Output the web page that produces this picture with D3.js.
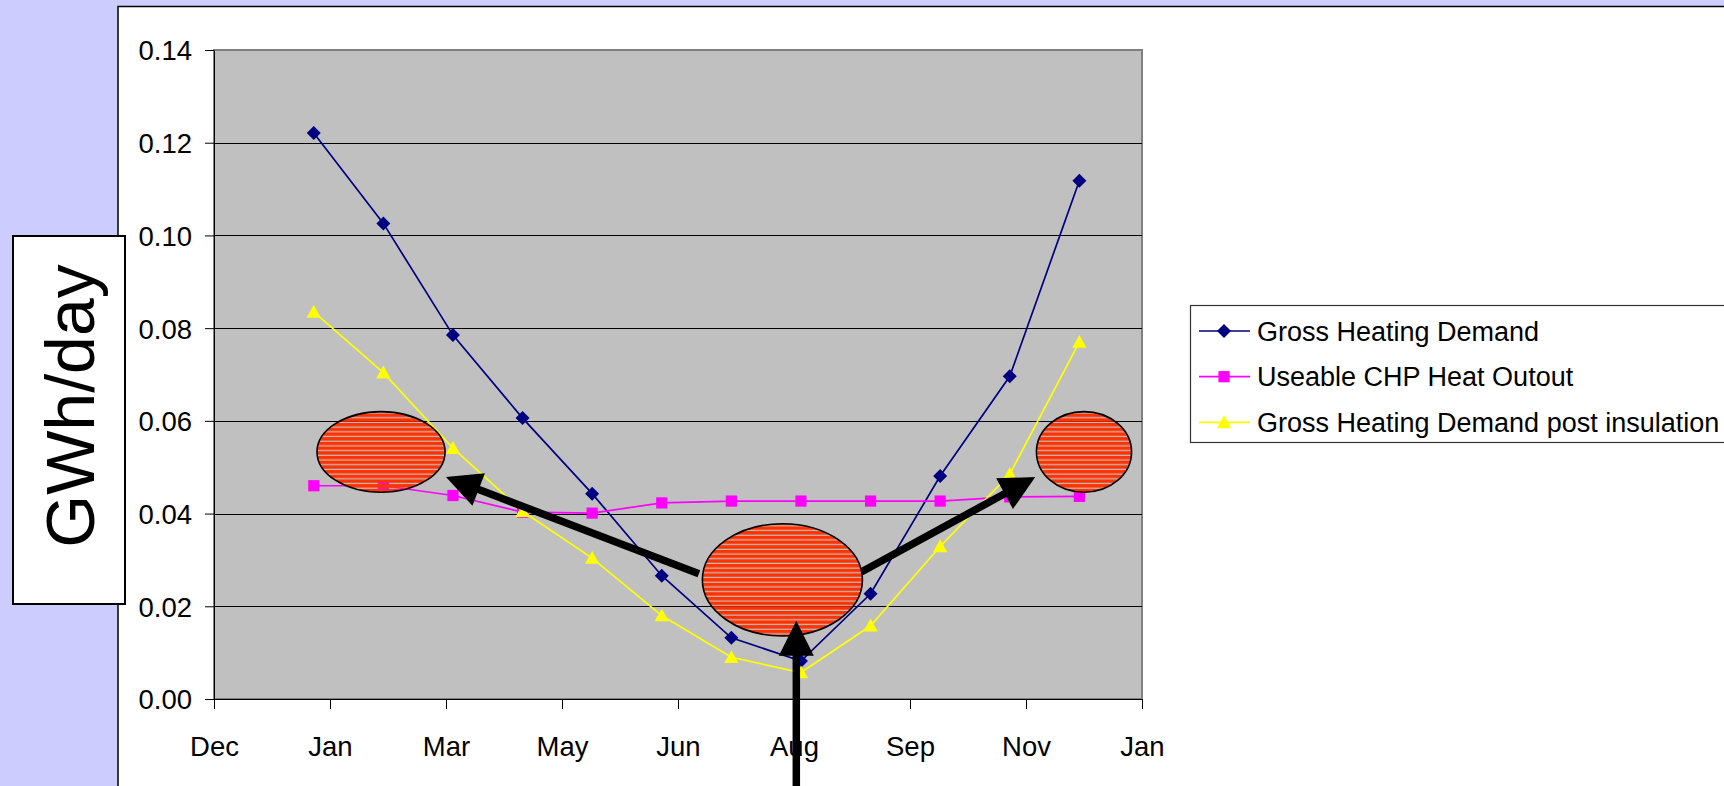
<!DOCTYPE html>
<html>
<head>
<meta charset="utf-8">
<script src="https://cdn.jsdelivr.net/npm/d3@7"></script>
<style>
  html, body { margin: 0; padding: 0; background: #CCCCFF; overflow: hidden; }
  svg { display: block; }
  text { font-family: "Liberation Sans", Arial, Helvetica, sans-serif; }
</style>
</head>
<body>
<svg id="chart" width="1724" height="786"></svg>
<script>
// ---- Data -------------------------------------------------------------
const months = ['Jan', 'Feb', 'Mar', 'Apr', 'May', 'Jun', 'Jul', 'Aug', 'Sep', 'Oct', 'Nov', 'Dec'];
const readingDates = ['2007-01-15', '2007-02-14', '2007-03-16', '2007-04-15', '2007-05-15', '2007-06-14',
                      '2007-07-14', '2007-08-13', '2007-09-12', '2007-10-12', '2007-11-11', '2007-12-11'];

const grossDemand     = [0.1221, 0.1026, 0.0785, 0.0606, 0.0443, 0.0266, 0.0132, 0.0082, 0.0227, 0.0481, 0.0696, 0.1118];
const chpOutput       = [0.0460, 0.0460, 0.0439, 0.0403, 0.0401, 0.0423, 0.0427, 0.0427, 0.0427, 0.0427, 0.0436, 0.0437];
const insulatedDemand = [0.0835, 0.0704, 0.0541, 0.0405, 0.0304, 0.0180, 0.0090, 0.0057, 0.0158, 0.0329, 0.0485, 0.0770];

const seriesNames = ['Gross Heating Demand', 'Useable CHP Heat Outout', 'Gross Heating Demand post insulation'];

const xTickDates  = ['2006-12-03', '2007-01-22', '2007-03-13', '2007-05-02', '2007-06-21',
                     '2007-08-10', '2007-09-29', '2007-11-18', '2008-01-07'];
const xTickLabels = ['Dec', 'Jan', 'Mar', 'May', 'Jun', 'Aug', 'Sep', 'Nov', 'Jan'];
const yTickValues = [0, 0.02, 0.04, 0.06, 0.08, 0.10, 0.12, 0.14];
const yAxisTitle  = 'GWh/day';

// Highlighted periods (centre date/value, half extents in days / GWh)
const highlightDates   = ['2007-02-13', '2007-08-05', '2007-12-13'];
const highlightValues  = [0.0533, 0.0257, 0.0533];
const highlightHalfDay = [27.6, 34.5, 20.5];
const highlightHalfVal = [0.0087, 0.0121, 0.0087];

// Arrows: from (date, value) to (date, value)
const arrowFromDates  = ['2007-06-30', '2007-09-08', '2007-08-11'];
const arrowFromValues = [0.0270, 0.0274, -0.0210];
const arrowToDates    = ['2007-03-13', '2007-11-22', '2007-08-11'];
const arrowToValues   = [0.0479, 0.0479, 0.0169];

// ---- Setup ------------------------------------------------------------
const parse = d3.utcParse('%Y-%m-%d');
const DAY = 864e5;
const svg = d3.select('#chart');

const plot = { left: 214, right: 1142, top: 50, bottom: 699 };

const x = d3.scaleUtc()
  .domain([parse(xTickDates[0]), parse(xTickDates[xTickDates.length - 1])])
  .range([plot.left, plot.right]);
const y = d3.scaleLinear().domain([0, 0.14]).range([plot.bottom, plot.top]);

// White chart panel
svg.append('rect')
  .attr('x', 118).attr('y', 6.5).attr('width', 1700).attr('height', 800)
  .attr('fill', '#ffffff').attr('stroke', '#000').attr('stroke-width', 1.5);

// Plot area
svg.append('rect')
  .attr('x', plot.left).attr('y', plot.top)
  .attr('width', plot.right - plot.left).attr('height', plot.bottom - plot.top)
  .attr('fill', '#C0C0C0').attr('stroke', '#808080').attr('stroke-width', 2);

// Horizontal gridlines
svg.append('g').selectAll('line')
  .data(yTickValues.filter(v => v > 0 && v < 0.14))
  .join('line')
  .attr('x1', plot.left).attr('x2', plot.right)
  .attr('y1', d => Math.round(y(d)) + 0.5).attr('y2', d => Math.round(y(d)) + 0.5)
  .attr('stroke', '#000').attr('stroke-width', 1);

// Y axis
const yAxis = svg.append('g')
  .attr('transform', `translate(${plot.left},0)`)
  .call(d3.axisLeft(y).tickValues(yTickValues).tickFormat(d3.format('.2f'))
    .tickSizeInner(9).tickSizeOuter(0).tickPadding(13));
yAxis.attr('font-size', 27.5).attr('font-family', null);
yAxis.select('.domain').attr('stroke', '#000');
yAxis.selectAll('.tick text').attr('fill', '#000').attr('dy', '0.36em');

// X axis
const xAxis = svg.append('g')
  .attr('transform', `translate(0,${plot.bottom})`)
  .call(d3.axisBottom(x).tickValues(xTickDates.map(parse))
    .tickFormat((d, i) => xTickLabels[i])
    .tickSizeInner(10).tickSizeOuter(0).tickPadding(27));
xAxis.attr('font-size', 27.5).attr('font-family', null);
xAxis.select('.domain').attr('stroke', '#000');
xAxis.selectAll('.tick text').attr('fill', '#000');

// ---- Series -------------------------------------------------------------
const markerPath = {
  diamond: r => `M0,${-r}L${r},0L0,${r}L${-r},0Z`,
  square: r => `M${-r},${-r}H${r}V${r}H${-r}Z`,
  triangle: r => `M0,${-r * 1.05}L${r * 1.05},${r * 0.85}L${-r * 1.05},${r * 0.85}Z`
};

const series = [
  { name: seriesNames[0], values: grossDemand,     color: '#000080', shape: 'diamond',  r: 7.0 },
  { name: seriesNames[1], values: chpOutput,       color: '#FF00FF', shape: 'square',   r: 5.6 },
  { name: seriesNames[2], values: insulatedDemand, color: '#FFFF00', shape: 'triangle', r: 6.8 }
];

const line = d3.line().x(d => x(d.date)).y(d => y(d.value));

series.forEach(s => {
  const pts = s.values.map((v, i) => ({ date: parse(readingDates[i]), value: v, month: months[i] }));
  const g = svg.append('g');
  g.append('path').datum(pts)
    .attr('d', line).attr('fill', 'none')
    .attr('stroke', s.color).attr('stroke-width', 1.7);
  g.selectAll('path.marker').data(pts).join('path')
    .attr('class', 'marker')
    .attr('transform', d => `translate(${x(d.date)},${y(d.value)})`)
    .attr('d', markerPath[s.shape](s.r))
    .attr('fill', s.color);
});

// ---- Annotations --------------------------------------------------------
const defs = svg.append('defs');
const hatch = defs.append('pattern')
  .attr('id', 'hatch').attr('patternUnits', 'userSpaceOnUse')
  .attr('width', 10).attr('height', 4.7);
hatch.append('rect').attr('x', 0).attr('y', 0).attr('width', 10).attr('height', 3.5).attr('fill', '#FF3300');

function drawArrow(g, x1, y1, x2, y2) {
  const dx = x2 - x1, dy = y2 - y1, L = Math.hypot(dx, dy);
  const ux = dx / L, uy = dy / L;
  const headLen = 35, headW = 35;
  const bx = x2 - ux * headLen, by = y2 - uy * headLen;
  g.append('line')
    .attr('x1', x1).attr('y1', y1).attr('x2', bx + ux * 2).attr('y2', by + uy * 2)
    .attr('stroke', '#000').attr('stroke-width', 7.5);
  g.append('path')
    .attr('d', `M${x2},${y2}L${bx - uy * headW / 2},${by + ux * headW / 2}L${bx + uy * headW / 2},${by - ux * headW / 2}Z`)
    .attr('fill', '#000');
}

const annot = svg.append('g');
// diagonal arrows leaving the summer highlight
[0, 1].forEach(i => drawArrow(annot,
  x(parse(arrowFromDates[i])), y(arrowFromValues[i]),
  x(parse(arrowToDates[i])), y(arrowToValues[i])));

// highlighted periods
highlightDates.forEach((d, i) => {
  const c = parse(d);
  const cx = x(c), cy = y(highlightValues[i]);
  const rx = x(new Date(+c + highlightHalfDay[i] * DAY)) - cx;
  const ry = cy - y(highlightValues[i] + highlightHalfVal[i]);
  annot.append('ellipse')
    .attr('cx', cx).attr('cy', cy).attr('rx', rx).attr('ry', ry)
    .attr('fill', 'url(#hatch)').attr('stroke', '#000').attr('stroke-width', 1.6);
});

// vertical arrow pointing at the summer minimum
drawArrow(annot,
  x(parse(arrowFromDates[2])), y(arrowFromValues[2]),
  x(parse(arrowToDates[2])), y(arrowToValues[2]));

// ---- Legend ---------------------------------------------------------------
const legend = svg.append('g');
legend.append('rect')
  .attr('x', 1190.5).attr('y', 305.5).attr('width', 600).attr('height', 137)
  .attr('fill', '#fff').attr('stroke', '#333').attr('stroke-width', 1.2);
series.forEach((s, i) => {
  const ly = 331 + i * 45.7;
  legend.append('line')
    .attr('x1', 1199).attr('x2', 1250).attr('y1', ly).attr('y2', ly)
    .attr('stroke', s.color).attr('stroke-width', 1.7);
  legend.append('path')
    .attr('transform', `translate(1224,${ly})`)
    .attr('d', markerPath[s.shape](s.r))
    .attr('fill', s.color);
  legend.append('text')
    .attr('x', 1257).attr('y', ly).attr('dy', '0.36em')
    .attr('font-size', 27).attr('fill', '#000')
    .text(s.name);
});

// ---- Y axis title box --------------------------------------------------------
svg.append('rect')
  .attr('x', 13).attr('y', 236).attr('width', 112).attr('height', 368)
  .attr('fill', '#fff').attr('stroke', '#000').attr('stroke-width', 2);
svg.append('text')
  .attr('transform', 'translate(94,406) rotate(-90)')
  .attr('text-anchor', 'middle')
  .attr('font-size', 68).attr('fill', '#000')
  .text(yAxisTitle);
</script>
</body>
</html>
